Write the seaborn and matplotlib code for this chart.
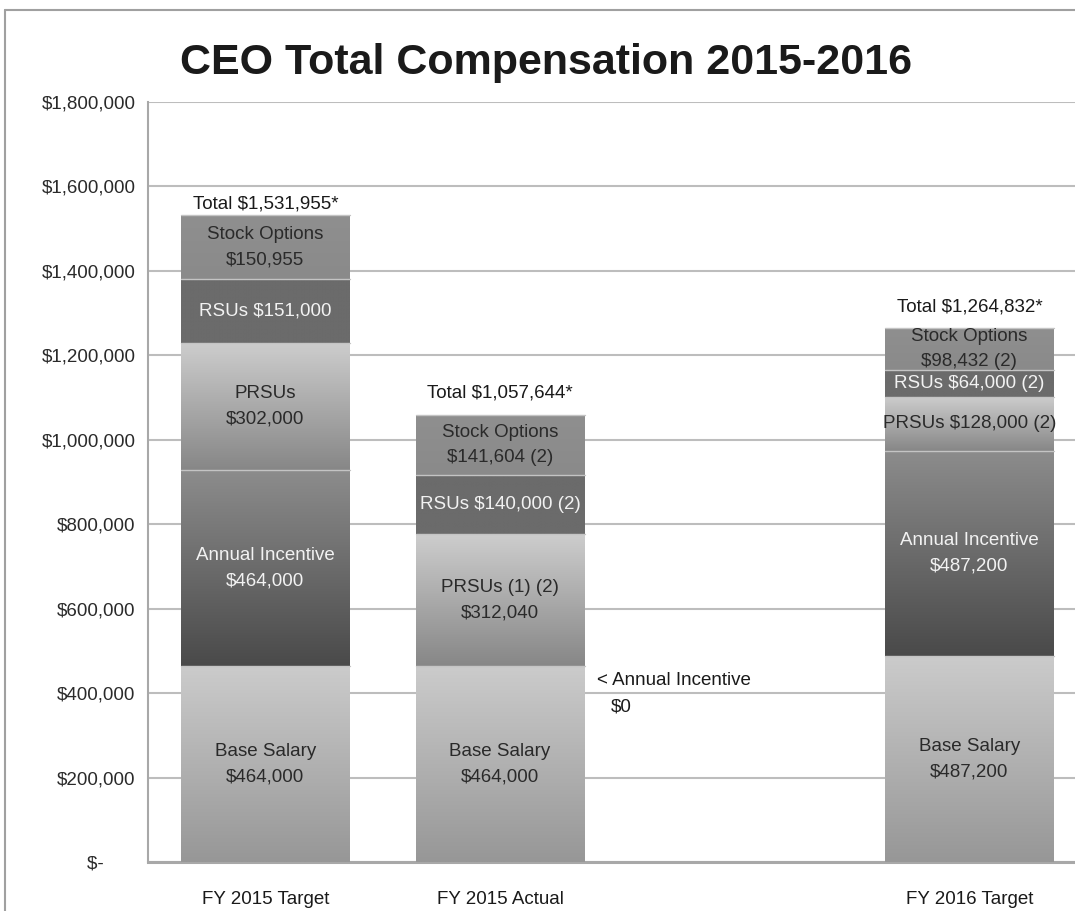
import numpy as np
import pandas as pd
import matplotlib.pyplot as plt
import matplotlib.colors as mcolors
from matplotlib.lines import Line2D
from matplotlib.ticker import FuncFormatter
import seaborn as sn

# data
categories = ['FY 2015 Target', 'FY 2015 Actual', 'FY 2016 Target']
slots = ['FY 2015 Target', 'FY 2015 Actual', ' ', 'FY 2016 Target']

base_salary = [464000, 464000, 487200]
annual_incentive = [464000, 0, 487200]
prsus = [302000, 312040, 128000]
rsus = [151000, 140000, 64000]
stock_options = [150955, 141604, 98432]
totals = ['Total $1,531,955*', 'Total $1,057,644*', 'Total $1,264,832*']

base_labels = ['Base Salary\n$464,000', 'Base Salary\n$464,000', 'Base Salary\n$487,200']
annual_labels = ['Annual Incentive\n$464,000', '', 'Annual Incentive\n$487,200']
prsu_labels = ['PRSUs\n$302,000', 'PRSUs (1) (2)\n$312,040', 'PRSUs $128,000 (2)']
rsu_labels = ['RSUs $151,000', 'RSUs $140,000 (2)', 'RSUs $64,000 (2)']
option_labels = ['Stock Options\n$150,955', 'Stock Options\n$141,604 (2)', 'Stock Options\n$98,432 (2)']

# layer styles: (values, labels, top colour, bottom colour, text colour)
layers = [
    (base_salary, base_labels, '#cbcbcb', '#979797', '#2a2a2a'),
    (annual_incentive, annual_labels, '#8c8c8c', '#4a4a4a', '#f2f2f2'),
    (prsus, prsu_labels, '#cdcdcd', '#878787', '#2a2a2a'),
    (rsus, rsu_labels, '#6b6b6b', '#6b6b6b', '#f2f2f2'),
    (stock_options, option_labels, '#8f8f8f', '#8a8a8a', '#2a2a2a'),
]

sn.set_style('white')
plt.rcParams['font.family'] = ['Liberation Sans', 'DejaVu Sans']
fs = 13.5
bar_w = 0.72

fig = plt.figure(figsize=(10.75, 9.11), dpi=100)
ax = fig.add_axes([0.1377, 0.0538, 0.8623, 0.8342])

# cumulative stacks, drawn top layer first so lower layers sit in front
cum = np.cumsum([np.array(l[0], dtype=float) for l in layers], axis=0)
for i in range(len(layers) - 1, -1, -1):
    df = pd.DataFrame({'cat': categories, 'val': cum[i]})
    sn.barplot(data=df, x='cat', y='val', order=slots, color=layers[i][3],
               saturation=1, width=bar_w, linewidth=0, ax=ax, zorder=2)

# gradient fill + labels for each segment
for j, cat in enumerate(categories):
    xc = slots.index(cat)
    x0, x1 = xc - bar_w / 2, xc + bar_w / 2
    bottom = 0.0
    for vals, labels, ctop, cbot, tcol in layers:
        v = vals[j]
        if v > 0:
            t = np.linspace(0, 1, 80)[:, None]
            img = np.array(mcolors.to_rgb(ctop)) * (1 - t) + np.array(mcolors.to_rgb(cbot)) * t
            ax.imshow(img[:, None, :], extent=(x0, x1, bottom, bottom + v),
                      aspect='auto', origin='upper', zorder=3, interpolation='bilinear')
            ax.plot([x0, x1], [bottom + v, bottom + v], color='#c4c4c4', lw=1, zorder=4)
            if labels[j]:
                ax.text(xc, bottom + v / 2, labels[j], ha='center', va='center',
                        fontsize=fs, color=tcol, linespacing=1.62, zorder=5)
        bottom += v

# totals above bars
total_offsets = [2, 10, 9]
for j, cat in enumerate(categories):
    xc = slots.index(cat)
    ax.annotate(totals[j], (xc, cum[-1][j]), xytext=(0, total_offsets[j]),
                textcoords='offset points', ha='center', va='bottom',
                fontsize=fs, color='#1a1a1a', zorder=5)

# zero annual incentive note
xa = slots.index('FY 2015 Actual') + bar_w / 2
ax.annotate('< Annual Incentive', (xa, base_salary[1]), xytext=(9, -4),
            textcoords='offset points', ha='left', va='top', fontsize=fs, color='#1a1a1a')
ax.annotate('$0', (xa, base_salary[1]), xytext=(19, -23),
            textcoords='offset points', ha='left', va='top', fontsize=fs, color='#1a1a1a')

ax.set_xlim(-0.5, 3.45)
ax.set_ylim(0, 1800000)
ax.set_yticks(np.arange(0, 1800001, 200000))
ax.yaxis.set_major_formatter(FuncFormatter(
    lambda v, p: '$-      ' if v == 0 else '${:,.0f}'.format(v)))
ax.grid(axis='y', color='#bdbdbd', lw=1.5, zorder=0)
ax.set_axisbelow(True)
ax.tick_params(axis='y', length=0, pad=9, labelsize=fs, labelcolor='#2a2a2a')
ax.tick_params(axis='x', length=0, pad=21, labelsize=fs, labelcolor='#1a1a1a')
ax.set_xlabel('')
ax.set_ylabel('')
for s in ['top', 'right']:
    ax.spines[s].set_visible(False)
ax.spines['left'].set_color('#a8a8a8')
ax.spines['left'].set_linewidth(1.5)
ax.spines['bottom'].set_color('#a8a8a8')
ax.spines['bottom'].set_linewidth(2.2)

fig.text(0.508, 0.931, 'CEO Total Compensation 2015-2016', ha='center', va='center',
         fontsize=31, fontweight='bold', color='#1a1a1a')

# outer frame of the original slide
fig.add_artist(Line2D([0.005, 1.0], [0.989, 0.989], color='#a0a0a0', lw=1.5))
fig.add_artist(Line2D([0.005, 0.005], [0.0, 0.989], color='#a0a0a0', lw=1.5))

fig.savefig('out.png', dpi=100)
